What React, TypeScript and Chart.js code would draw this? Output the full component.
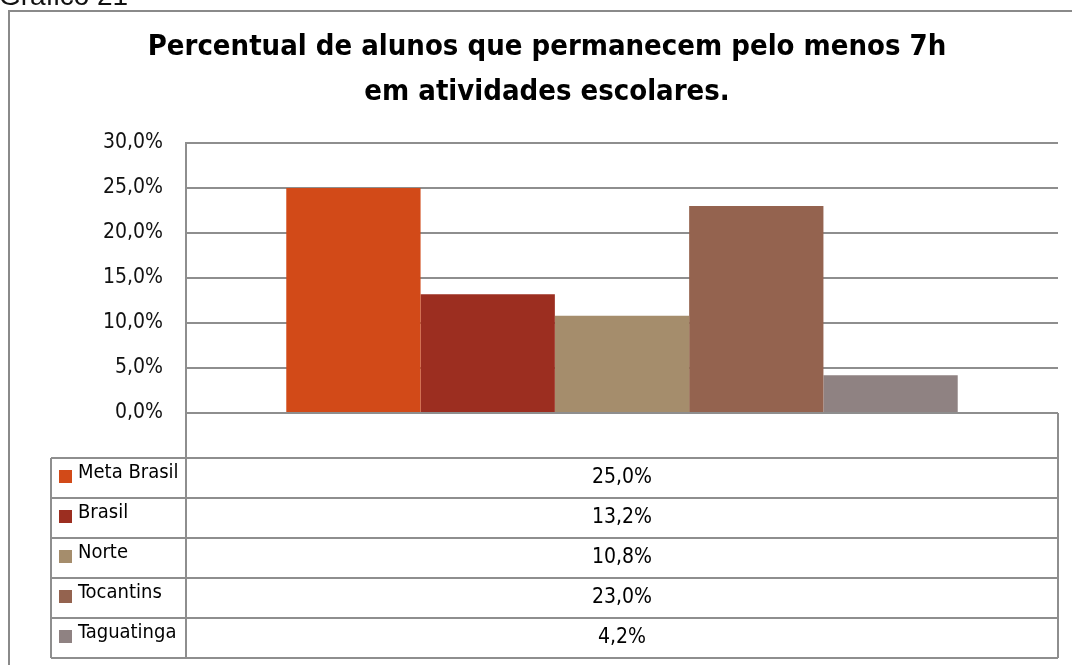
import React, { useEffect, useRef } from "react";
import { Chart, registerables } from "chart.js";

Chart.register(...registerables);

const categories = [""];
const seriesLabels = ["Meta Brasil", "Brasil", "Norte", "Tocantins", "Taguatinga"];
const seriesValues = [25.0, 13.2, 10.8, 23.0, 4.2];
const seriesColors = ["#D24A18", "#9C2E20", "#A58D6C", "#94634F", "#8F8282"];
const yMin = 0;
const yMax = 30;
const yStep = 5;
const titleLines = ["Percentual de alunos que permanecem pelo menos 7h", "em atividades escolares."];
const captionText = "Gráfico 21";

const NARROW = '"Liberation Sans Narrow", "DejaVu Sans Condensed", Arial, sans-serif';
const GRID = "#8e8e8e";

const fmt = (v: number) => v.toFixed(1).replace(".", ",") + "%";

const tablePlugin = {
  id: "tablePlugin",
  afterDraw(chart: any) {
    const ctx = chart.ctx as CanvasRenderingContext2D;
    const ca = chart.chartArea;
    const left = ca.left;
    const right = ca.right;
    const top = ca.bottom;
    const headerH = 45;
    const rowH = 40;
    const tableLeft = 51;
    const firstRow = top + headerH;
    const n = seriesLabels.length;
    const bottom = firstRow + rowH * n;
    ctx.save();
    // outer frame
    ctx.strokeStyle = "#8a8a8a";
    ctx.lineWidth = 2;
    ctx.beginPath();
    ctx.moveTo(9, 665);
    ctx.lineTo(9, 11);
    ctx.lineTo(1072, 11);
    ctx.stroke();
    // caption
    ctx.fillStyle = "#111";
    ctx.font = '28px "Liberation Sans", Arial, sans-serif';
    ctx.textAlign = "left";
    ctx.textBaseline = "alphabetic";
    ctx.fillText(captionText, -1, 5);
    // title
    ctx.fillStyle = "#000";
    ctx.font = "bold 29px " + NARROW;
    ctx.textAlign = "center";
    ctx.fillText(titleLines[0], 547, 55);
    ctx.fillText(titleLines[1], 547, 100);
    // table grid
    ctx.strokeStyle = GRID;
    ctx.lineWidth = 2;
    ctx.beginPath();
    ctx.moveTo(left, top);
    ctx.lineTo(left, bottom);
    ctx.moveTo(right, top);
    ctx.lineTo(right, bottom);
    ctx.moveTo(tableLeft, firstRow);
    ctx.lineTo(tableLeft, bottom);
    for (let i = 0; i <= n; i++) {
      const y = firstRow + rowH * i;
      ctx.moveTo(tableLeft, y);
      ctx.lineTo(right, y);
    }
    ctx.stroke();
    // rows
    ctx.textBaseline = "middle";
    for (let i = 0; i < n; i++) {
      const y0 = firstRow + rowH * i;
      ctx.fillStyle = seriesColors[i];
      ctx.fillRect(59, y0 + 12, 13, 13);
      ctx.fillStyle = "#000";
      ctx.font = "20px " + NARROW;
      ctx.textAlign = "left";
      ctx.fillText(seriesLabels[i], 78, y0 + 15);
      ctx.font = "21px " + NARROW;
      ctx.textAlign = "center";
      ctx.fillText(fmt(seriesValues[i]), (left + right) / 2, y0 + 20);
    }
    ctx.restore();
  },
};

export default function App() {
  const ref = useRef<HTMLCanvasElement>(null);
  useEffect(() => {
    if (!ref.current) return;
    const chart = new Chart(ref.current, {
      type: "bar",
      data: {
        labels: categories,
        datasets: seriesLabels.map((label, i) => ({
          label,
          data: [seriesValues[i]],
          backgroundColor: seriesColors[i],
          borderWidth: 0,
          barPercentage: 1,
          categoryPercentage: 0.77,
        })),
      },
      options: {
        animation: false,
        responsive: false,
        maintainAspectRatio: false,
        layout: { padding: { left: 20, top: 143, right: 14, bottom: 252 } },
        plugins: {
          legend: { display: false },
          title: { display: false },
          tooltip: { enabled: false },
        },
        scales: {
          x: { display: false },
          y: {
            min: yMin,
            max: yMax,
            afterFit: (s: any) => {
              s.width = 166;
            },
            ticks: {
              stepSize: yStep,
              padding: 23,
              color: "#111",
              font: { family: NARROW, size: 21 },
              callback: (v: any) => fmt(Number(v)),
            },
            grid: { color: GRID, lineWidth: 2, drawTicks: false },
            border: { display: true, color: GRID, width: 2 },
          },
        },
      },
      plugins: [tablePlugin],
    });
    return () => chart.destroy();
  }, []);
  return (
    <div style={{ position: "fixed", left: 0, top: 0, width: 1072, height: 665, background: "#fff" }}>
      <canvas ref={ref} width={1072} height={665} style={{ width: 1072, height: 665, display: "block" }} />
    </div>
  );
}
